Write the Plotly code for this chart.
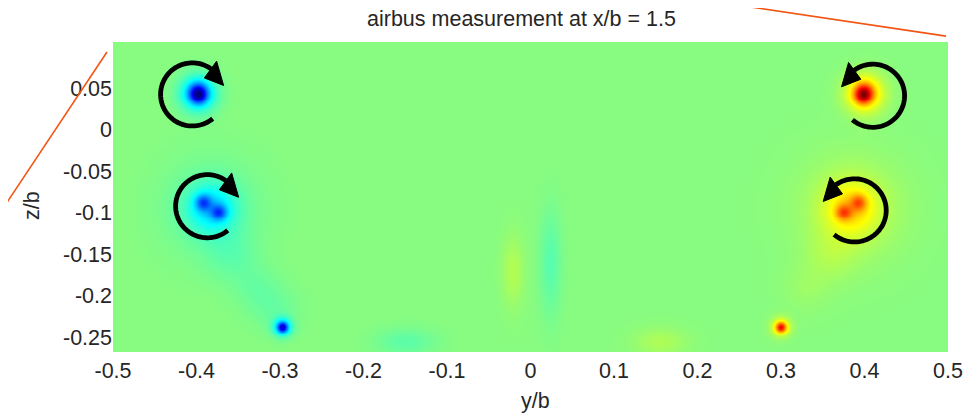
import numpy as np
import plotly.graph_objects as go

# ---------------- data ----------------
x_ticks = [-0.5, -0.4, -0.3, -0.2, -0.1, 0, 0.1, 0.2, 0.3, 0.4, 0.5]
x_tick_text = ["-0.5", "-0.4", "-0.3", "-0.2", "-0.1", "0", "0.1", "0.2", "0.3", "0.4", "0.5"]
z_ticks = [0.05, 0, -0.05, -0.1, -0.15, -0.2, -0.25]
z_tick_text = ["0.05", "0", "-0.05", "-0.1", "-0.15", "-0.2", "-0.25"]

y_extent = [-0.5, 0.5]
z_extent = [-0.2675, 0.1057]

# vorticity blobs (position y/b, z/b, amplitude, width in y, width in z)
blob_y   = [-0.399, -0.398, -0.399, -0.393, -0.374, -0.383, -0.383, -0.36, -0.33, -0.305,
            -0.297, -0.297,
             0.399,  0.398,  0.400,  0.393,  0.375,  0.384,  0.384,  0.36,  0.33,
             0.299,  0.299,
             0.024, -0.022, -0.15, 0.155]
blob_z   = [ 0.045,  0.039,  0.044, -0.087, -0.099, -0.094, -0.094, -0.15, -0.19, -0.215,
            -0.237, -0.237,
             0.045,  0.039,  0.044, -0.087, -0.099, -0.094, -0.094, -0.15, -0.19,
            -0.237, -0.237,
            -0.16,  -0.17,  -0.255, -0.255]
blob_amp = [-0.55, -0.15, -0.40, -0.36, -0.36, -0.27, -0.09, -0.06, -0.05, -0.05,
            -0.55, -0.33,
             0.52,  0.17,  0.40,  0.30,  0.32,  0.26,  0.11,  0.06,  0.04,
             0.48,  0.30,
            -0.09,  0.09, -0.08, 0.08]
blob_sy  = [0.0075, 0.006, 0.015, 0.0065, 0.0065, 0.019, 0.04, 0.022, 0.02, 0.02,
            0.0042, 0.008,
            0.0075, 0.006, 0.016, 0.0065, 0.0065, 0.021, 0.043, 0.022, 0.02,
            0.0042, 0.008,
            0.009, 0.009, 0.025, 0.022]
blob_sz  = [0.0075, 0.006, 0.015, 0.0065, 0.0065, 0.019, 0.04, 0.022, 0.02, 0.02,
            0.0042, 0.008,
            0.0075, 0.006, 0.016, 0.0065, 0.0065, 0.021, 0.043, 0.022, 0.02,
            0.0042, 0.008,
            0.045, 0.03, 0.012, 0.012]

# circulation arrows: centre, radius, sense (+1 clockwise, -1 counter-clockwise)
arrow_cy = [-0.405, -0.387, 0.410, 0.388]
arrow_cz = [0.0426, -0.092, 0.041, -0.097]
arrow_r = 0.038
arrow_sense = [1, 1, -1, -1]

title_text = "airbus measurement at x/b = 1.5"

# ---------------- field ----------------
gy = np.linspace(y_extent[0], y_extent[1], 420)
gz = np.linspace(z_extent[0], z_extent[1], 160)
YY, ZZ = np.meshgrid(gy, gz)
field = np.zeros_like(YY)
for by, bz, a, sy, sz in zip(blob_y, blob_z, blob_amp, blob_sy, blob_sz):
    field += a * np.exp(-((YY - by) ** 2) / (2 * sy ** 2) - ((ZZ - bz) ** 2) / (2 * sz ** 2))

jet = [
    [0.0, "rgb(0,0,128)"],
    [0.125, "rgb(0,0,255)"],
    [0.375, "rgb(0,255,255)"],
    [0.5, "rgb(136,252,128)"],
    [0.625, "rgb(255,255,0)"],
    [0.875, "rgb(255,0,0)"],
    [1.0, "rgb(128,0,0)"],
]

fig = go.Figure()
fig.add_trace(go.Heatmap(
    x=gy, y=gz, z=field, colorscale=jet, zmin=-1, zmax=1,
    showscale=False, zsmooth="best", hoverinfo="skip",
))

# ---------------- circulation arrows ----------------
shapes = []
for cy, cz, s in zip(arrow_cy, arrow_cz, arrow_sense):
    th = np.deg2rad(np.linspace(-50, -306, 80))
    px = cy + s * arrow_r * np.cos(th)
    pz = cz + arrow_r * np.sin(th)
    path = "M " + " L ".join(f"{a:.5f},{b:.5f}" for a, b in zip(px, pz))
    shapes.append(dict(type="path", path=path, xref="x", yref="y",
                       line=dict(color="black", width=4.8)))
    tb = np.deg2rad(-306)
    tt = np.deg2rad(-344)
    r_in, r_out, r_tip = arrow_r - 0.0135, arrow_r + 0.0115, arrow_r + 0.001
    p1 = (cy + s * r_in * np.cos(tb), cz + r_in * np.sin(tb))
    p2 = (cy + s * r_out * np.cos(tb), cz + r_out * np.sin(tb))
    p3 = (cy + s * r_tip * np.cos(tt), cz + r_tip * np.sin(tt))
    tri = f"M {p1[0]:.5f},{p1[1]:.5f} L {p2[0]:.5f},{p2[1]:.5f} L {p3[0]:.5f},{p3[1]:.5f} Z"
    shapes.append(dict(type="path", path=tri, xref="x", yref="y",
                       fillcolor="black", line=dict(color="black", width=1)))

# decorative perspective lines (paper coordinates)
deco_lines = [(-0.1421, 0.4213, -0.0072, 0.9677), (0.7074, 1.1355, 0.9976, 1.019)]
for x0, y0, x1, y1 in deco_lines:
    shapes.append(dict(type="line", xref="paper", yref="paper", x0=x0, y0=y0, x1=x1, y1=y1,
                       line=dict(color="rgb(240,85,20)", width=1.6)))

font_fam = "Liberation Sans, Arial, sans-serif"
txt_col = "#262626"
tick_size = 21.5

fig.update_layout(
    width=968, height=405,
    margin=dict(l=105, r=28, t=34, b=61),
    paper_bgcolor="white", plot_bgcolor="white",
    shapes=shapes,
    showlegend=False,
    font=dict(family=font_fam, size=20, color=txt_col),
    xaxis=dict(range=y_extent, tickvals=x_ticks, ticktext=x_tick_text, showgrid=False,
               zeroline=False, showline=False, ticks="", ticklabelstandoff=3,
               tickfont=dict(size=tick_size, color=txt_col)),
    yaxis=dict(range=z_extent, tickvals=z_ticks, ticktext=z_tick_text, showgrid=False,
               zeroline=False, showline=False, ticks="", tickfont=dict(size=tick_size, color=txt_col)),
    annotations=[
        dict(text=title_text, xref="paper", yref="paper", x=0.489, y=1.074,
             xanchor="center", yanchor="middle", showarrow=False,
             font=dict(size=21.5, color=txt_col)),
        dict(text="y/b", xref="paper", yref="paper", x=0.506, y=-0.158,
             xanchor="center", yanchor="middle", showarrow=False,
             font=dict(size=21.5, color=txt_col)),
        dict(text="z/b", xref="paper", yref="paper", x=-0.0971, y=0.474, textangle=-90,
             xanchor="center", yanchor="middle", showarrow=False,
             font=dict(size=21.5, color=txt_col)),
    ],
)

fig.write_html("out.html")
